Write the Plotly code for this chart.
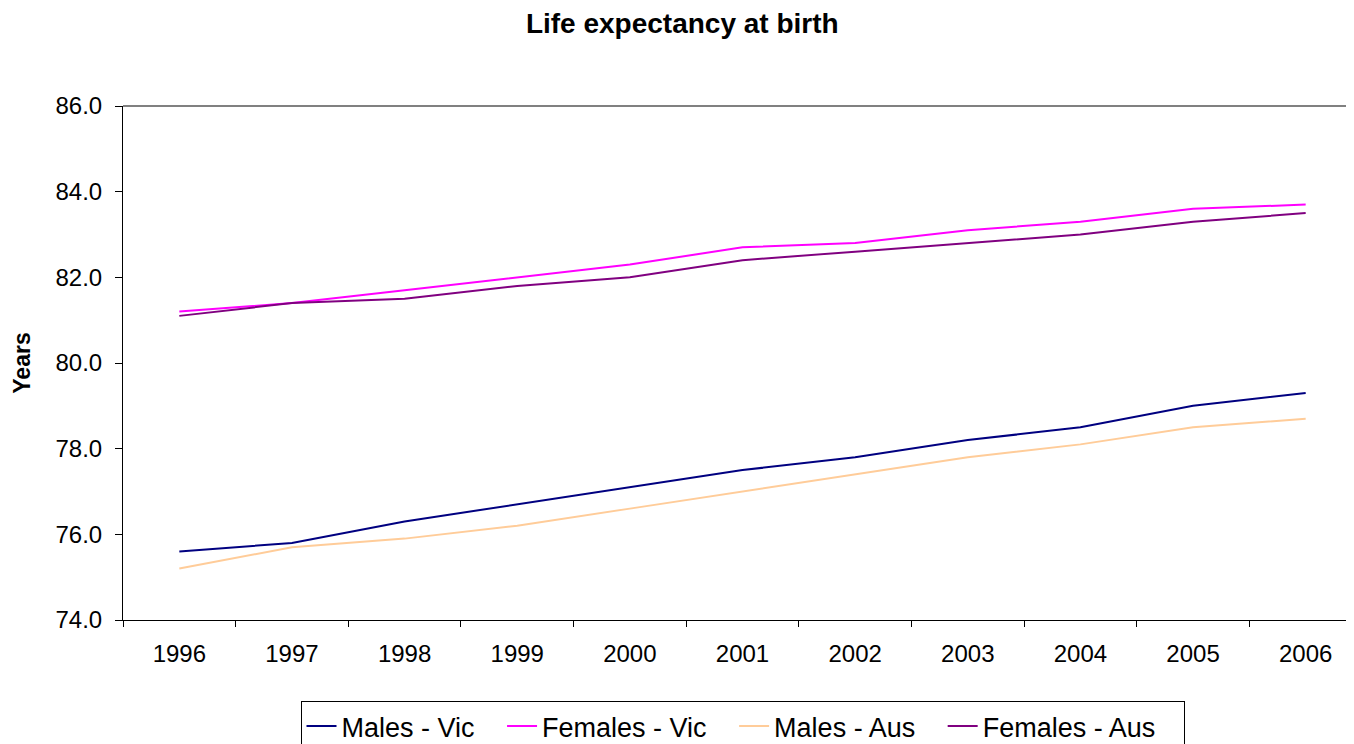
import plotly.graph_objects as go

years = ["1996", "1997", "1998", "1999", "2000", "2001", "2002", "2003", "2004", "2005", "2006"]
males_vic = [75.6, 75.8, 76.3, 76.7, 77.1, 77.5, 77.8, 78.2, 78.5, 79.0, 79.3]
females_vic = [81.2, 81.4, 81.7, 82.0, 82.3, 82.7, 82.8, 83.1, 83.3, 83.6, 83.7]
males_aus = [75.2, 75.7, 75.9, 76.2, 76.6, 77.0, 77.4, 77.8, 78.1, 78.5, 78.7]
females_aus = [81.1, 81.4, 81.5, 81.8, 82.0, 82.4, 82.6, 82.8, 83.0, 83.3, 83.5]

series = [
    ("Males - Vic", males_vic, "#000080"),
    ("Females - Vic", females_vic, "#FF00FF"),
    ("Males - Aus", males_aus, "#FFCC99"),
    ("Females - Aus", females_aus, "#800080"),
]

FONT = "Liberation Sans, Arial, sans-serif"
PAD = "\u00a0" * 3

fig = go.Figure()
for name, vals, color in series:
    fig.add_trace(go.Scatter(x=years, y=vals, name=name + PAD, mode="lines",
                             line=dict(color=color, width=2)))

fig.update_layout(
    width=1354, height=744,
    margin=dict(l=115, r=0, t=98, b=132),
    paper_bgcolor="white", plot_bgcolor="white",
    font=dict(family=FONT, size=24, color="black"),
    title=dict(text="<b>Life expectancy at birth</b>", x=0.498, xanchor="center",
               y=0.993, yanchor="top", font=dict(size=28)),
    showlegend=True,
    legend=dict(orientation="h", x=0.5, xanchor="center", y=-0.1575, yanchor="top",
                bordercolor="black", borderwidth=1, font=dict(size=27),
                itemwidth=30, tracegroupgap=0),
    shapes=[dict(type="line", xref="paper", yref="paper", x0=0, x1=1, y0=1, y1=1,
                 line=dict(color="#808080", width=2))],
)
fig.update_xaxes(type="category", range=[-0.5, 10.5], showline=True, linecolor="black",
                 linewidth=1, ticks="outside", ticklen=6, tickcolor="black",
                 tickson="boundaries", showgrid=False, zeroline=False,
                 tickfont=dict(size=24), automargin=False, ticklabelstandoff=12)
fig.update_yaxes(range=[74, 86], dtick=2, tickformat=".1f", showline=True,
                 linecolor="black", linewidth=1, ticks="outside", ticklen=7,
                 tickcolor="black", showgrid=False, zeroline=False,
                 title=dict(text="<b>Years</b>", font=dict(size=23), standoff=18),
                 tickfont=dict(size=24), automargin=False, ticklabelstandoff=8)

fig.write_html("out.html")
